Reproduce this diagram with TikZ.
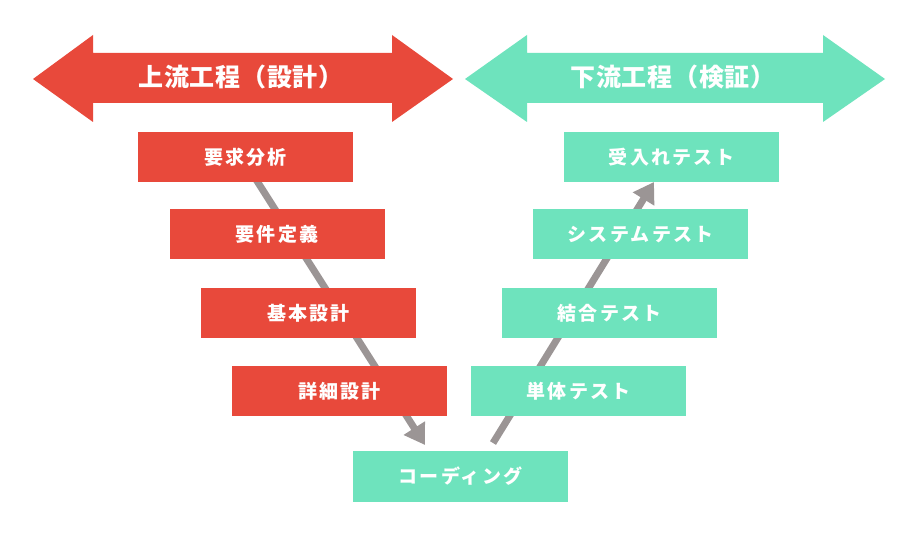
\documentclass[tikz,border=0pt]{standalone}
\usepackage{fontspec}
\setmainfont{Noto Sans CJK JP}
\usetikzlibrary{arrows.meta}
\definecolor{upred}{HTML}{E8493B}
\definecolor{downgreen}{HTML}{6EE3BD}
\definecolor{flowgray}{HTML}{9B9595}
\tikzset{
  box/.style={minimum width=215pt, minimum height=50pt, inner sep=0pt, text=white, font=\fontsize{19}{21}\selectfont\bfseries\addfontfeatures{LetterSpace=12}},
  redbox/.style={box, fill=upred},
  greenbox/.style={box, fill=downgreen},
  title/.style={text=white, inner sep=0pt, font=\fontsize{25}{28}\selectfont\bfseries\addfontfeatures{LetterSpace=3}},
  flow/.style={draw=flowgray, line width=7pt, -{Triangle[width=24pt,length=20pt]}}
}
\begin{document}
\begin{tikzpicture}[x=1pt,y=-1pt]
\useasboundingbox (0,0) rectangle (916,534);
\fill[white] (0,0) rectangle (916,534);
% header arrows
\fill[upred] (33,79) -- (93,35) -- (93,53) -- (392,53) -- (392,35) -- (453,79) -- (392,122) -- (392,103) -- (93,103) -- (93,122) -- cycle;
\fill[downgreen] (465,79) -- (527,35) -- (527,53) -- (823,53) -- (823,35) -- (885,79) -- (823,122) -- (823,103) -- (527,103) -- (527,122) -- cycle;
\node[title] (uptitle) at (241,77) {上流工程（設計）};
\node[title] (downtitle) at (673,77) {下流工程（検証）};
% flow arrows (behind the boxes)
\coordinate (dstart) at (250,170);
\coordinate (dend) at (425,445);
\coordinate (ustart) at (493,443);
\coordinate (uend) at (654,182);
\draw[flow] (dstart) -- (dend);
\draw[flow] (ustart) -- (uend);
% boxes
\node[redbox] (req) at (245.5,157) {要求分析};
\node[redbox] (reqdef) at (277,234.5) {要件定義};
\node[redbox] (basic) at (308.5,313) {基本設計};
\node[redbox] (detail) at (339.5,391.5) {詳細設計};
\node[greenbox] (accept) at (671.5,157) {受入れテスト};
\node[greenbox] (system) at (640.5,234.5) {システムテスト};
\node[greenbox] (integ) at (609.5,313) {結合テスト};
\node[greenbox] (unit) at (578.5,391.5) {単体テスト};
\node[greenbox] (coding) at (460.5,476.5) {コーディング};
\end{tikzpicture}
\end{document}
